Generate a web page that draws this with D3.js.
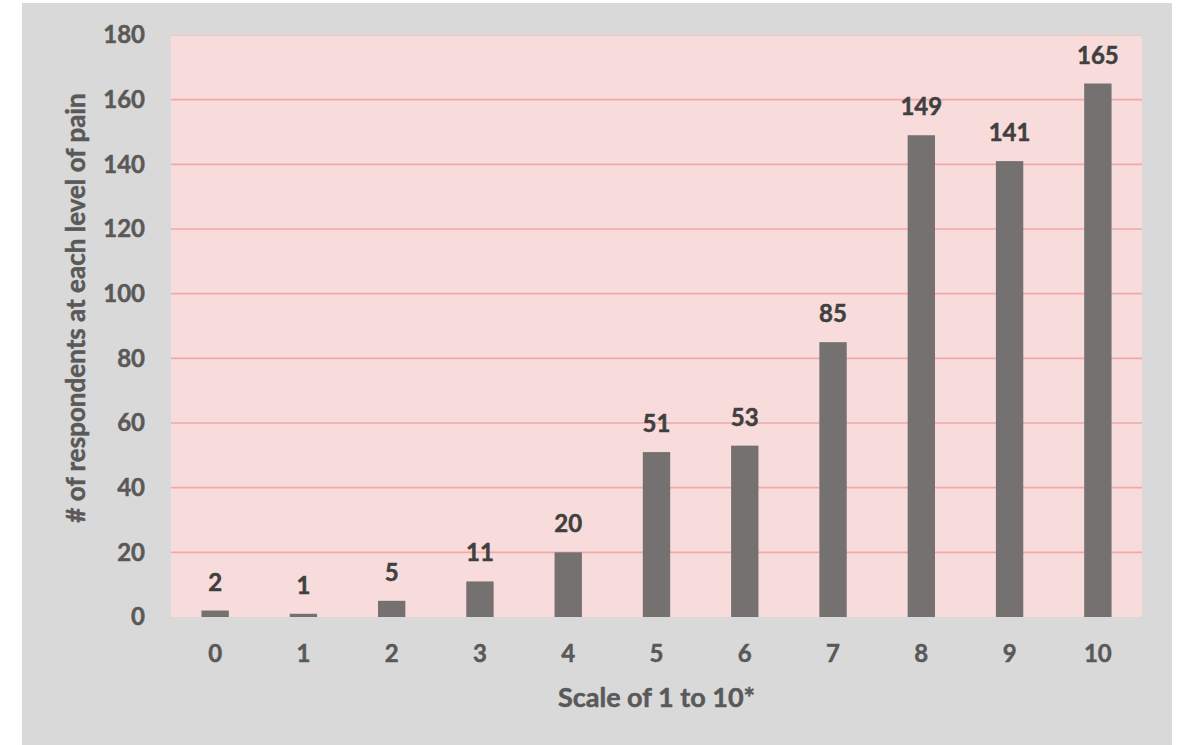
<!DOCTYPE html>
<html>
<head>
<meta charset="utf-8">
<script src="https://cdn.jsdelivr.net/npm/d3@7"></script>
<style>
  body { margin: 0; background: #ffffff; }
  text { font-family: Lato, "Open Sans", sans-serif; font-weight: bold; }
</style>
</head>
<body>
<div id="chart"></div>
<script>
// Chart data
var levels = ["0", "1", "2", "3", "4", "5", "6", "7", "8", "9", "10"];
var respondents = [2, 1, 5, 11, 20, 51, 53, 85, 149, 141, 165];
var yTicks = [0, 20, 40, 60, 80, 100, 120, 140, 160, 180];

var svgWidth = 1184;
var svgHeight = 745;

var margin = { top: 35, right: 42, bottom: 128, left: 171 };
var width = svgWidth - margin.left - margin.right;
var height = svgHeight - margin.top - margin.bottom;

var svg = d3.select("#chart")
  .append("svg")
  .attr("width", svgWidth)
  .attr("height", svgHeight);

// outer grey panel
svg.append("rect")
  .attr("x", 22)
  .attr("y", 3)
  .attr("width", 1150)
  .attr("height", 745)
  .attr("fill", "#d9d9d9");

var chartGroup = svg.append("g")
  .attr("transform", `translate(${margin.left}, ${margin.top})`);

// plot area
chartGroup.append("rect")
  .attr("width", width)
  .attr("height", height)
  .attr("fill", "#f8dcdb");

chartGroup.append("line")
  .attr("x1", 0).attr("x2", width)
  .attr("y1", 0.5).attr("y2", 0.5)
  .attr("stroke", "#f4c4c2")
  .attr("stroke-width", 1);

var xBandScale = d3.scaleBand()
  .domain(levels)
  .range([0, width])
  .paddingInner(0.69)
  .paddingOuter(0.345);

var yLinearScale = d3.scaleLinear()
  .domain([0, 180])
  .range([height, 0]);

// gridlines
chartGroup.selectAll(".grid")
  .data(yTicks.filter(d => d > 0 && d < 180))
  .enter()
  .append("line")
  .attr("x1", 0)
  .attr("x2", width)
  .attr("y1", d => yLinearScale(d))
  .attr("y2", d => yLinearScale(d))
  .attr("stroke", "#f0a9a8")
  .attr("stroke-width", 1.6);

// y axis
var leftAxis = d3.axisLeft(yLinearScale).tickValues(yTicks).tickSize(0).tickPadding(26);
var yAxis = chartGroup.append("g").call(leftAxis);
yAxis.select(".domain").remove();
yAxis.selectAll("text")
  .attr("fill", "#595959")
  .attr("stroke", "#595959")
  .attr("stroke-width", 0.5)
  .style("font-size", "24px")
  .style("font-family", "Lato, sans-serif")
  .style("font-weight", "bold");

// x axis
var bottomAxis = d3.axisBottom(xBandScale).tickSize(0).tickPadding(28);
var xAxis = chartGroup.append("g")
  .attr("transform", `translate(0, ${height})`)
  .call(bottomAxis);
xAxis.select(".domain").remove();
xAxis.selectAll("text")
  .attr("fill", "#595959")
  .attr("stroke", "#595959")
  .attr("stroke-width", 0.5)
  .style("font-size", "24px")
  .style("font-family", "Lato, sans-serif")
  .style("font-weight", "bold");

// bars
chartGroup.selectAll(".bar")
  .data(respondents)
  .enter()
  .append("rect")
  .attr("x", (d, i) => xBandScale(levels[i]))
  .attr("y", d => yLinearScale(d))
  .attr("width", xBandScale.bandwidth())
  .attr("height", d => height - yLinearScale(d))
  .attr("fill", "#767171");

// value labels
chartGroup.selectAll(".label")
  .data(respondents)
  .enter()
  .append("text")
  .attr("x", (d, i) => xBandScale(levels[i]) + xBandScale.bandwidth() / 2)
  .attr("y", d => yLinearScale(d) - 20)
  .attr("text-anchor", "middle")
  .attr("fill", "#404040")
  .attr("stroke", "#404040")
  .attr("stroke-width", 0.5)
  .style("font-size", "24px")
  .text(d => d);

// axis titles
chartGroup.append("text")
  .attr("x", width / 2)
  .attr("y", height + 90)
  .attr("text-anchor", "middle")
  .attr("fill", "#595959")
  .attr("stroke", "#595959")
  .attr("stroke-width", 0.5)
  .style("font-size", "27px")
  .text("Scale of 1 to 10*");

chartGroup.append("text")
  .attr("transform", "rotate(-90)")
  .attr("x", 0 - 273)
  .attr("y", 85 - margin.left)
  .attr("text-anchor", "middle")
  .attr("fill", "#595959")
  .attr("stroke", "#595959")
  .attr("stroke-width", 0.5)
  .style("font-size", "26px")
  .text("# of respondents at each level of pain");
</script>
</body>
</html>
